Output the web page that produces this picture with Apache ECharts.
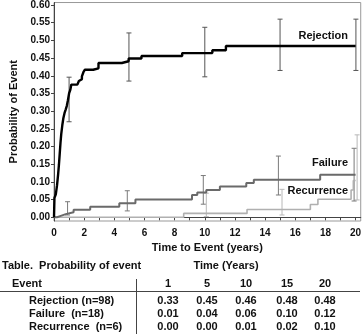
<!DOCTYPE html>
<html>
<head>
<meta charset="utf-8">
<script src="https://cdn.jsdelivr.net/npm/echarts@6/dist/echarts.min.js"></script>
<style>
  html, body { margin: 0; padding: 0; background: #fff; }
  #chart { width: 364px; height: 334px; }
</style>
</head>
<body>
<div id="chart"></div>
<script>
// Cumulative incidence step curves: [years, probability], value holds until the next point
var rejection = [
  [0, 0], [0.03, 0.055], [0.12, 0.065], [0.2, 0.09], [0.27, 0.12], [0.33, 0.15],
  [0.38, 0.18], [0.43, 0.21], [0.48, 0.235], [0.55, 0.26], [0.62, 0.28], [0.7, 0.295],
  [0.78, 0.305], [0.85, 0.315], [0.92, 0.33], [1.0, 0.35], [1.08, 0.36], [1.15, 0.375],
  [1.55, 0.38], [1.65, 0.385], [1.75, 0.39], [1.85, 0.398], [1.95, 0.41], [2.05, 0.417],
  [2.6, 0.421], [2.95, 0.436], [4.5, 0.441], [4.95, 0.449], [5.8, 0.456], [8.5, 0.464],
  [10.5, 0.472], [11.4, 0.484], [20, 0.484]
];
var failure = [
  [0, 0], [0.2, 0.004], [0.45, 0.009], [0.78, 0.014], [1.3, 0.021], [2.4, 0.03],
  [4.33, 0.04], [5.4, 0.05], [9.15, 0.063], [9.5, 0.07], [10.1, 0.077], [11.0, 0.087],
  [12.75, 0.097], [13.25, 0.106], [17.65, 0.12], [20, 0.12]
];
var recurrence = [
  [0, 0], [8.6, 0.011], [12.8, 0.022], [17.0, 0.036], [17.5, 0.051],
  [19.7, 0.077], [19.85, 0.104], [20, 0.104]
];

// Confidence intervals: [years, lower, upper]
var rejectionCI = [[1.0, 0.27, 0.396], [4.97, 0.385, 0.521], [10.0, 0.397, 0.537], [14.99, 0.415, 0.56], [20.02, 0.415, 0.56]];
var failureCI = [[0.9, 0.0065, 0.044], [4.86, 0.018, 0.075], [9.9, 0.037, 0.118], [14.88, 0.063, 0.173], [19.9, 0.046, 0.195]];
var recurrenceCI = [[10.1, 0.002, 0.068], [15.12, 0.0065, 0.079], [20.1, 0.049, 0.233]];

// Axis ticks
var yTicks = [0, 0.05, 0.1, 0.15, 0.2, 0.25, 0.3, 0.35, 0.4, 0.45, 0.5, 0.55, 0.6];
var xLabels = [0, 2, 4, 6, 8, 10, 12, 14, 16, 18, 20];
var xTicks = [0, 1, 2, 3, 4, 5, 6, 7, 8, 9, 10, 11, 12, 13, 14, 15, 16, 17, 18, 19, 20];

// Summary table
var tableTitle = 'Table.  Probability of event';
var tableTimeHeader = 'Time (Years)';
var tableTimes = ['1', '5', '10', '15', '20'];
var tableEvents = ['Rejection (n=98)', 'Failure  (n=18)', 'Recurrence  (n=6)'];
var tableRejection = ['0.33', '0.45', '0.46', '0.48', '0.48'];
var tableFailure = ['0.01', '0.04', '0.06', '0.10', '0.12'];
var tableRecurrence = ['0.00', '0.00', '0.01', '0.02', '0.10'];

var FONT = "'Liberation Sans', Arial, sans-serif";

function ciRenderer(color) {
  return function (params, api) {
    var x = api.value(0);
    var lo = api.coord([x, api.value(1)]);
    var hi = api.coord([x, api.value(2)]);
    var w = 2.5;
    var st = { stroke: color, lineWidth: 1 };
    return {
      type: 'group',
      children: [
        { type: 'line', shape: { x1: lo[0], y1: lo[1], x2: hi[0], y2: hi[1] }, style: st },
        { type: 'line', shape: { x1: lo[0] - w, y1: lo[1], x2: lo[0] + w, y2: lo[1] }, style: st },
        { type: 'line', shape: { x1: hi[0] - w, y1: hi[1], x2: hi[0] + w, y2: hi[1] }, style: st }
      ]
    };
  };
}

function txt(x, y, s, align) {
  return {
    type: 'text', x: x, y: y, silent: true,
    style: { text: s, font: 'bold 11px ' + FONT, fill: '#111', align: align || 'left', verticalAlign: 'middle' }
  };
}

var colX = [168, 207, 246, 287, 325];
var headerY = 283.5;
var rowY = [301, 314, 327];
var tableValues = [tableRejection, tableFailure, tableRecurrence];

var graphics = [];
graphics.push(txt(2, 266, tableTitle));
graphics.push(txt(226, 266, tableTimeHeader, 'center'));
graphics.push(txt(12, headerY, 'Event'));
tableTimes.forEach(function (t, i) { graphics.push(txt(colX[i], headerY, t, 'center')); });
tableEvents.forEach(function (e, r) {
  graphics.push(txt(29, rowY[r], e));
  tableValues[r].forEach(function (v, i) { graphics.push(txt(colX[i], rowY[r], v, 'center')); });
});
graphics.push({ type: 'line', silent: true, shape: { x1: 0, y1: 291.5, x2: 360, y2: 291.5 }, style: { stroke: '#444', lineWidth: 1 } });
graphics.push({ type: 'line', silent: true, shape: { x1: 136.5, y1: 279, x2: 136.5, y2: 334 }, style: { stroke: '#444', lineWidth: 1 } });

// Curve names placed beside their curves
graphics.push(txt(348, 36, 'Rejection', 'right'));
graphics.push(txt(348, 163, 'Failure', 'right'));
graphics.push(txt(348, 191, 'Recurrence', 'right'));

var chart = echarts.init(document.getElementById('chart'), null, { renderer: 'canvas' });
chart.setOption({
  animation: false,
  backgroundColor: '#fff',
  grid: { left: 44, right: 3, top: 2.5, bottom: 113, show: true, borderColor: '#999', borderWidth: 1, containLabel: false },
  xAxis: {
    type: 'value', min: 0, max: 20.34,
    name: 'Time to Event (years)', nameLocation: 'middle', nameGap: 21,
    nameTextStyle: { fontFamily: FONT, fontWeight: 'bold', fontSize: 11, color: '#111' },
    axisLine: { show: true, lineStyle: { color: '#444', width: 1 } },
    axisTick: { show: true, length: 3, customValues: xTicks, lineStyle: { color: '#444' } },
    axisLabel: { customValues: xLabels, margin: 7, fontFamily: FONT, fontWeight: 'bold', fontSize: 10, color: '#111' },
    splitLine: { show: false }
  },
  yAxis: {
    type: 'value', min: -0.0105, max: 0.607,
    name: 'Probability of Event', nameLocation: 'middle', nameGap: 35, nameRotate: 90,
    nameTextStyle: { fontFamily: FONT, fontWeight: 'bold', fontSize: 11, color: '#111' },
    axisLine: { show: true, lineStyle: { color: '#444', width: 1 } },
    axisTick: { show: true, length: 3, customValues: yTicks, lineStyle: { color: '#444' } },
    axisLabel: {
      customValues: yTicks, margin: 4, fontFamily: FONT, fontWeight: 'bold', fontSize: 10, color: '#111',
      formatter: function (v) { return v.toFixed(2); }
    },
    splitLine: { show: false }
  },
  series: [
    { type: 'custom', name: 'Recurrence CI', data: recurrenceCI, encode: { x: 0, y: [1, 2] }, renderItem: ciRenderer('#b8b8b8'), z: 2 },
    { type: 'custom', name: 'Failure CI', data: failureCI, encode: { x: 0, y: [1, 2] }, renderItem: ciRenderer('#7a7a7a'), z: 2 },
    { type: 'custom', name: 'Rejection CI', data: rejectionCI, encode: { x: 0, y: [1, 2] }, renderItem: ciRenderer('#555'), z: 2 },
    { type: 'line', name: 'Recurrence', data: recurrence, step: 'end', showSymbol: false, lineStyle: { color: '#b0b0b0', width: 1.6 }, z: 3 },
    { type: 'line', name: 'Failure', data: failure, step: 'end', showSymbol: false, lineStyle: { color: '#6a6a6a', width: 2 }, z: 4 },
    { type: 'line', name: 'Rejection', data: rejection, step: 'end', showSymbol: false, lineStyle: { color: '#000', width: 2.4 }, z: 5 }
  ],
  graphic: graphics
});
</script>
</body>
</html>
